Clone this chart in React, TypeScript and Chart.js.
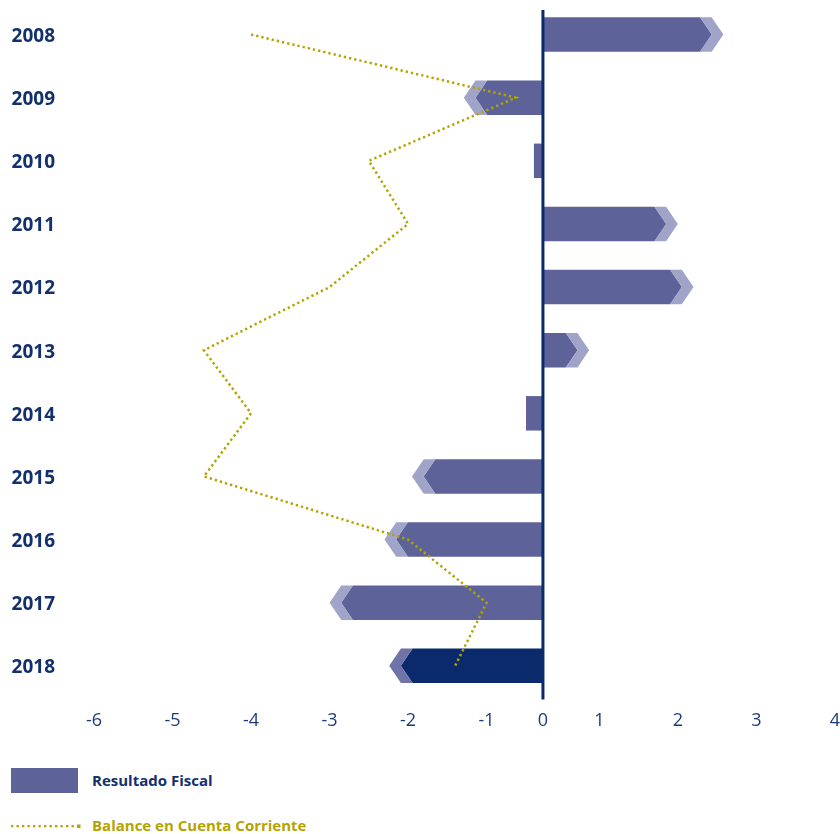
import React, { useEffect, useRef } from 'react';
import { Chart, registerables, LinearScale } from 'chart.js';

Chart.register(...registerables);

// ---- data ----
const years = ['2008', '2009', '2010', '2011', '2012', '2013', '2014', '2015', '2016', '2017', '2018'];
const resultadoFiscal = [2.58, -1.29, -0.16, 2.0, 2.2, 0.82, -0.3, -1.95, -2.3, -3.0, -2.24];
const balanceCuentaCorriente = [-4.0, -0.48, -2.5, -2.0, -3.0, -4.6, -4.0, -4.6, -2.0, -1.0, -1.4];
const xTickValues = [-6, -5, -4, -3, -2, -1, 0, 1, 2, 3, 4];
const highlightYear = '2018';

// ---- styles ----
const NAVY = '#0b2a6c';
const SLATE = '#5d6399';
const SLATE_LIGHT = '#a1a4c9';
const SLATE_MID = '#6f73a8';
const OLIVE = '#b3a400';
const FONT = '"Open Sans", "DejaVu Sans", sans-serif';

// axis near zero is compressed in the original graphic
const K = 0.718;
const warp = (v: number) => {
  if (v <= -1) return v;
  if (v <= 1) return -1 + (v + 1) * K;
  return -1 + 2 * K + (v - 1);
};
const unwarp = (u: number) => {
  if (u <= -1) return u;
  if (u <= -1 + 2 * K) return -1 + (u + 1) / K;
  return 1 + (u - (-1 + 2 * K));
};

class WarpScale extends LinearScale {
  static id = 'warpLinear';
  getPixelForValue(value: any) {
    if (value === null || value === undefined || isNaN(value)) return NaN;
    const a = warp(this.min);
    const b = warp(this.max);
    return this.getPixelForDecimal((warp(+value) - a) / (b - a));
  }
  getValueForPixel(pixel: number) {
    const a = warp(this.min);
    const b = warp(this.max);
    return unwarp(a + this.getDecimalForPixel(pixel) * (b - a));
  }
}
Chart.register(WarpScale);

const barColors = years.map((y) => (y === highlightYear ? NAVY : SLATE));
const chevronColors = years.map((y) => (y === highlightYear ? SLATE_MID : SLATE_LIGHT));

const chevronBars = {
  id: 'chevronBars',
  beforeDatasetDraw(chart: any, args: any) {
    if (args.meta.type !== 'bar') return;
    const ctx = chart.ctx;
    ctx.save();
    args.meta.data.forEach((bar: any, i: number) => {
      const { x, y, base, height } = bar.getProps(['x', 'y', 'base', 'height'], true);
      const dir = x >= base ? 1 : -1;
      const len = Math.abs(x - base);
      const hh = height / 2;
      const top = y - hh;
      const bot = y + hh;
      const a = hh * 0.68;
      const d = hh * 0.675;
      if (len < 2 * (a + d) * 0.75) {
        ctx.fillStyle = barColors[i];
        ctx.fillRect(Math.min(x, base), top, len, height);
        return;
      }
      // body
      ctx.fillStyle = barColors[i];
      ctx.beginPath();
      ctx.moveTo(base, top);
      ctx.lineTo(x - dir * (a + d), top);
      ctx.lineTo(x - dir * d, y);
      ctx.lineTo(x - dir * (a + d), bot);
      ctx.lineTo(base, bot);
      ctx.closePath();
      ctx.fill();
      // chevron tip
      ctx.fillStyle = chevronColors[i];
      ctx.beginPath();
      ctx.moveTo(x - dir * (a + d), top);
      ctx.lineTo(x - dir * a, top);
      ctx.lineTo(x, y);
      ctx.lineTo(x - dir * a, bot);
      ctx.lineTo(x - dir * (a + d), bot);
      ctx.lineTo(x - dir * d, y);
      ctx.closePath();
      ctx.fill();
    });
    ctx.restore();
    return false;
  },
  afterDatasetsDraw(chart: any) {
    const ctx = chart.ctx;
    const x0 = chart.scales.x.getPixelForValue(0);
    const { top, bottom } = chart.chartArea;
    ctx.save();
    ctx.strokeStyle = NAVY;
    ctx.lineWidth = 3;
    ctx.beginPath();
    ctx.moveTo(x0, top + 7);
    ctx.lineTo(x0, bottom + 2);
    ctx.stroke();
    ctx.restore();
  },
};

function ChartCanvas() {
  const ref = useRef<HTMLCanvasElement>(null);
  useEffect(() => {
    if (!ref.current) return;
    const chart = new Chart(ref.current, {
      type: 'bar',
      data: {
        labels: years,
        datasets: [
          {
            type: 'bar',
            label: 'Resultado Fiscal',
            data: resultadoFiscal,
            backgroundColor: barColors,
            indexAxis: 'y',
            order: 2,
            barPercentage: 0.546,
            categoryPercentage: 1,
          } as any,
          {
            type: 'line',
            label: 'Balance en Cuenta Corriente',
            data: balanceCuentaCorriente,
            borderColor: OLIVE,
            backgroundColor: OLIVE,
            borderWidth: 2.5,
            borderDash: [2.3, 3],
            pointRadius: 0,
            tension: 0,
            fill: false,
            indexAxis: 'y',
            order: 1,
          } as any,
        ],
      },
      options: {
        indexAxis: 'y',
        responsive: false,
        animation: false,
        layout: { padding: { top: 3, bottom: 9, left: 0, right: 0 }, autoPadding: false },
        plugins: {
          legend: { display: false },
          tooltip: { enabled: false },
        },
        scales: {
          x: {
            type: 'warpLinear' as any,
            min: -6,
            max: 4,
            afterBuildTicks: (scale: any) => {
              scale.ticks = xTickValues.map((v) => ({ value: v }));
            },
            afterFit: (scale: any) => {
              scale.paddingRight = Math.max(0, scale.paddingRight - scale.options.ticks.padding);
              scale.paddingLeft = Math.max(0, scale.paddingLeft - scale.options.ticks.padding);
            },
            grid: { display: false, drawTicks: false },
            border: { display: false },
            ticks: {
              padding: 13,
              color: '#1e3b7b',
              font: { family: FONT, size: 18, weight: 'normal' },
              callback: (v: any) => String(v),
            },
          },
          y: {
            type: 'category',
            offset: true,
            grid: { display: false, drawTicks: false },
            border: { display: false },
            afterFit: (scale: any) => {
              scale.width = 94;
              scale.paddingTop = 0;
              scale.paddingBottom = 0;
            },
            ticks: {
              padding: 39,
              labelOffset: 2,
              color: '#12306d',
              font: { family: FONT, size: 19, weight: 'bold' },
            },
          },
        },
      } as any,
      plugins: [chevronBars],
    });
    return () => chart.destroy();
  }, []);
  return <canvas ref={ref} width={840} height={754} style={{ display: 'block' }} />;
}

export default function App() {
  const dots = [];
  for (let i = 0; i < 12; i++) {
    dots.push(<rect key={i} x={i * 5.5} y={1} width={2.3} height={2.3} fill={OLIVE} />);
  }
  return (
    <div style={{ position: 'absolute', left: 0, top: 0, width: 840, height: 834, background: '#fff', overflow: 'hidden' }}>
      <ChartCanvas />
      <div style={{ position: 'absolute', left: 11, top: 768, width: 67, height: 25, background: SLATE }} />
      <div
        style={{
          position: 'absolute',
          left: 92,
          top: 770,
          fontFamily: FONT,
          fontWeight: 700,
          fontSize: 15,
          lineHeight: '21px',
          color: '#12306d',
          whiteSpace: 'nowrap',
        }}
      >
        Resultado Fiscal
      </div>
      <svg style={{ position: 'absolute', left: 11, top: 824 }} width={70} height={5}>
        {dots}
        <rect x={66} y={0.5} width={3.5} height={3.5} fill={OLIVE} />
      </svg>
      <div
        style={{
          position: 'absolute',
          left: 92,
          top: 815,
          fontFamily: FONT,
          fontWeight: 700,
          fontSize: 15,
          lineHeight: '21px',
          color: OLIVE,
          whiteSpace: 'nowrap',
        }}
      >
        Balance en Cuenta Corriente
      </div>
    </div>
  );
}
